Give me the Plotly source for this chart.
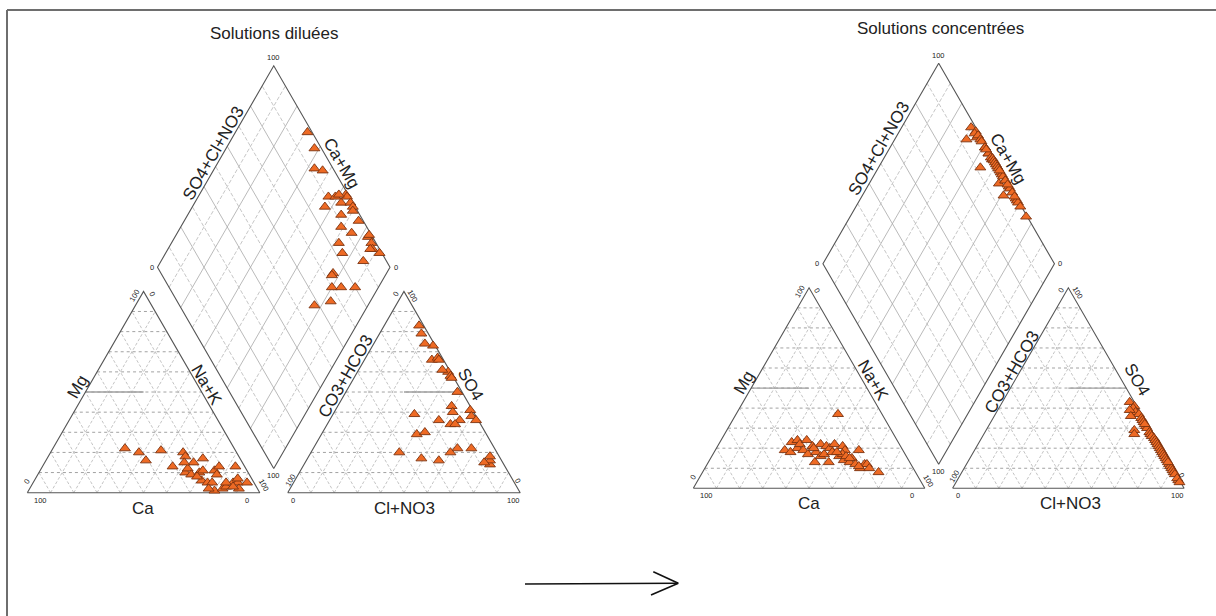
import numpy as np
import plotly.graph_objects as go

# ---------------- DATA (meq %) ----------------
# Solutions diluées
dil_Ca   = [47,42,41,32,31,23,23,27,25,21,25,16,21,22,14,20,11,14,18,19,15,4,13,9,7,8,3,25,19,23,21,12,6,10]
dil_Mg   = [22,20,16,21,13,20,18,10,12,15,9,17,10,6,11,5,13,9,5,1,2,13,3,5,5,2,5,15,11,8,2,5,7,3]
dil_NaK  = [31,38,43,47,56,57,59,63,63,64,66,67,69,72,75,75,76,77,77,80,83,83,84,86,88,90,92,60,70,69,77,83,87,87]
dil_HCO3 = [2,3,8,5,9,13,6,5,1,1,8,1,1,16,2,8,17,42,26,30,34,2,26,2,3,20,1,4,2,11,27,1,4,10]
dil_SO4  = [83,79,43,66,40,34,14,16,73,60,36,58,57,22,67,15,36,20,39,29,17,66,30,50,61,20,41,74,38,34,16,36,18,22]
dil_Cl   = [15,18,49,29,51,53,80,79,26,39,56,41,42,62,31,77,47,38,35,41,49,32,44,48,36,60,58,22,60,55,57,63,78,68]

# Solutions concentrées
con_Ca   = [51,46,43,49,45,43,39,43,38,42,19,34,38,41,32,37,35,31,28,31,35,25,29,25,27,28,26,24,26,19,24,23,20,19,19,16,38,29,25,23]
con_Mg   = [19,23,24,18,20,22,24,19,21,17,37,22,18,13,21,16,17,20,22,18,13,21,16,19,17,14,16,15,13,19,12,10,12,12,10,8,20,18,15,11]
con_NaK  = [30,31,33,33,35,35,37,38,41,41,44,44,44,46,47,47,48,49,50,51,52,54,55,56,56,58,58,61,61,62,64,67,68,69,71,76,42,53,60,66]
con_HCO3 = [2,7,1,2,2,1,1,1,1,1,1,8,1,1,1,0.5,0.5,0.5,0.5,0.5,0.5,0.5,0.5,4,0.5,0.5,0.5,0.5,5,0.5,0.5,0.5,0.5,0.5,0.5,0.5,1,0.5,0.5,0.5]
con_SO4  = [43,29,41,40,38,37,35,34,33,31,30,27,28,27,26,25,24,23,22,21,20,19,18,39,17,16,15,14,36,12,11,10,9,8,7,4,32,5,13,3]
con_Cl   = [55,64,58,58,60,62,64,65,66,68,69,65,71,72,73,74.5,75.5,76.5,77.5,78.5,79.5,80.5,81.5,57,82.5,83.5,84.5,85.5,59,87.5,88.5,89.5,90.5,91.5,92.5,95.5,67,94.5,86.5,96.5]

titles = ["Solutions diluées", "Solutions concentrées"]
tick_labels = ["0", "100"]
cat_labels = ["Ca", "Mg", "Na+K"]
an_labels = ["Cl+NO3", "CO3+HCO3", "SO4"]
dia_labels = ["SO4+Cl+NO3", "Ca+Mg"]

# ---------------- STYLE / LAYOUT ----------------
W, H = 1216, 616
SQ = np.sqrt(3) / 2
GAP = 0.12
FONT = "Liberation Sans, Arial, sans-serif"
PT_FILL = "#ee6a24"
PT_LINE = "#7a3210"

fig = go.Figure()
annotations = []


def piper(O, s, Ca, Mg, NaK, HCO3, SO4, Cl, title):
    ox, oy = O

    def cat(u, v):
        return ox + s * u, oy - s * v

    def ani(u, v):
        return ox + s * (1 + GAP + u), oy - s * v

    bx, by = 1 + GAP / 2, SQ * GAP

    def dia(a, b):
        return ox + s * (bx + 0.5 * (a - b)), oy - s * (by + SQ * (a + b))

    outline_x, outline_y = [], []
    hgrid_x, hgrid_y = [], []
    igrid_x, igrid_y = [], []
    dgrid_x, dgrid_y = [], []
    dgrid2_x, dgrid2_y = [], []
    mid_x, mid_y = [], []

    def seg(lx, ly, p, q):
        lx += [p[0], q[0], None]
        ly += [p[1], q[1], None]

    for f in (cat, ani):
        pts = [f(0, 0), f(1, 0), f(0.5, SQ), f(0, 0)]
        outline_x += [p[0] for p in pts] + [None]
        outline_y += [p[1] for p in pts] + [None]
        for k in range(1, 10):
            t = k / 10
            seg(hgrid_x, hgrid_y, f(t / 2, t * SQ), f(1 - t / 2, t * SQ))
            seg(igrid_x, igrid_y, f(t, 0), f(t + (1 - t) / 2, (1 - t) * SQ))
            seg(igrid_x, igrid_y, f(t, 0), f(t / 2, t * SQ))
    seg(mid_x, mid_y, cat(0.25, 0.5 * SQ), cat(0.5, 0.5 * SQ))
    seg(mid_x, mid_y, ani(0.5, 0.5 * SQ), ani(0.75, 0.5 * SQ))

    pts = [dia(0, 0), dia(1, 0), dia(1, 1), dia(0, 1), dia(0, 0)]
    outline_x += [p[0] for p in pts] + [None]
    outline_y += [p[1] for p in pts] + [None]
    for k in range(1, 10):
        t = k / 10
        if k % 2 == 0:
            seg(dgrid_x, dgrid_y, dia(t, 0), dia(t, 1))
            seg(dgrid_x, dgrid_y, dia(0, t), dia(1, t))
        else:
            seg(dgrid2_x, dgrid2_y, dia(t, 0), dia(t, 1))
            seg(dgrid2_x, dgrid2_y, dia(0, t), dia(1, t))

    def line_trace(x, y, color, width, dash="solid"):
        fig.add_trace(go.Scatter(x=x, y=y, mode="lines", hoverinfo="skip",
                                 line=dict(color=color, width=width, dash=dash),
                                 showlegend=False))

    line_trace(hgrid_x, hgrid_y, "#8a8a8a", 0.8, "dot")
    line_trace(igrid_x, igrid_y, "#b5b5b5", 0.8, "3px,2px")
    line_trace(dgrid_x, dgrid_y, "#a8a8a8", 0.8)
    line_trace(dgrid2_x, dgrid2_y, "#b8b8b8", 0.8, "4px,2px")
    line_trace(mid_x, mid_y, "#a0a0a0", 1.3)
    line_trace(outline_x, outline_y, "#555555", 1.1)

    # points
    Ca, Mg, NaK = map(np.asarray, (Ca, Mg, NaK))
    HCO3, SO4, Cl = map(np.asarray, (HCO3, SO4, Cl))
    cx, cy = cat(NaK / 100 + Mg / 200, Mg / 100 * SQ)
    axx, ayy = ani(Cl / 100 + SO4 / 200, SO4 / 100 * SQ)
    dx, dy = dia((SO4 + Cl) / 100, (Ca + Mg) / 100)
    for X, Y in ((cx, cy), (axx, ayy), (dx, dy)):
        fig.add_trace(go.Scatter(
            x=X, y=Y, mode="markers", showlegend=False, hoverinfo="skip",
            marker=dict(symbol="triangle-up", size=9.5, color=PT_FILL,
                        line=dict(color=PT_LINE, width=0.9))))

    # text helpers
    def txt(x, y, t, size, angle=0, color="#222"):
        annotations.append(dict(x=x, y=y, xref="x", yref="y", text=t, showarrow=False,
                                textangle=angle, xanchor="center", yanchor="middle",
                                font=dict(family=FONT, size=size, color=color)))

    TS = 7.5
    # cation ticks
    p = cat(0, 0); txt(p[0] + 12.7, p[1] + 7.5, tick_labels[1], TS); txt(p[0] - 0.5, p[1] - 11, tick_labels[0], TS, -60)
    p = cat(1, 0); txt(p[0] - 13, p[1] + 7.5, tick_labels[0], TS); txt(p[0] + 4, p[1] - 7, tick_labels[1], TS, 60)
    p = cat(0.5, SQ); txt(p[0] - 9, p[1] + 4, tick_labels[1], TS, -60); txt(p[0] + 8, p[1] + 2.5, tick_labels[0], TS, 60)
    # anion ticks
    p = ani(0, 0); txt(p[0] + 5, p[1] + 7.5, tick_labels[0], TS); txt(p[0] + 2.4, p[1] - 12.5, tick_labels[1], TS, -60)
    p = ani(1, 0); txt(p[0] - 7, p[1] + 7.5, tick_labels[1], TS); txt(p[0] - 2.6, p[1] - 12.5, tick_labels[0], TS, 60)
    p = ani(0.5, SQ); txt(p[0] - 7.6, p[1] + 2.5, tick_labels[0], TS, -60); txt(p[0] + 9, p[1] + 5, tick_labels[1], TS, 60)
    # diamond ticks
    p = dia(1, 1); txt(p[0], p[1] - 8, tick_labels[1], TS)
    p = dia(0, 1); txt(p[0] - 5.5, p[1], tick_labels[0], TS)
    p = dia(1, 0); txt(p[0] + 6, p[1], tick_labels[0], TS)
    p = dia(0, 0); txt(p[0], p[1] + 7, tick_labels[1], TS)

    LS = 17
    txt(ox + 115.7, oy + 15.3, cat_labels[0], LS)
    txt(ox + 50.7, oy - 106, cat_labels[1], LS, -60)
    txt(ox + 179.7, oy - 107.7, cat_labels[2], LS, 60)
    txt(ox + 376.7, oy + 15.3, an_labels[0], LS)
    txt(ox + 318.4, oy - 116, an_labels[1], LS, -60)
    txt(ox + 443.4, oy - 108.7, an_labels[2], LS, 60)
    txt(ox + 186, oy - 339.4, dia_labels[0], LS, -60)
    txt(ox + 314.4, oy - 329.4, dia_labels[1], LS, 60)
    txt(ox + 246.7, oy - 459.7, title, 17)


piper((27.3, 492.7), 232.5, dil_Ca, dil_Mg, dil_NaK, dil_HCO3, dil_SO4, dil_Cl, titles[0])
piper((693.3, 488.3), 231.5, con_Ca, con_Mg, con_NaK, con_HCO3, con_SO4, con_Cl, titles[1])

shapes = [
    # frame
    dict(type="line", x0=7, y0=10, x1=W, y1=10, line=dict(color="#6e6e6e", width=2)),
    dict(type="line", x0=7, y0=10, x1=7, y1=H, line=dict(color="#6e6e6e", width=2)),
    # arrow
    dict(type="line", x0=525, y0=584, x1=678, y1=583.3, line=dict(color="#111", width=1.6)),
    dict(type="line", x0=653.3, y0=571.7, x1=678.3, y1=583.3, line=dict(color="#111", width=1.6)),
    dict(type="line", x0=651, y0=595, x1=678.3, y1=583.3, line=dict(color="#111", width=1.6)),
]

fig.update_layout(
    width=W, height=H,
    margin=dict(l=0, r=0, t=0, b=0),
    paper_bgcolor="white", plot_bgcolor="white",
    xaxis=dict(range=[0, W], visible=False, fixedrange=True),
    yaxis=dict(range=[H, 0], visible=False, fixedrange=True),
    annotations=annotations,
    shapes=shapes,
    showlegend=False,
)

fig.write_html("out.html")
